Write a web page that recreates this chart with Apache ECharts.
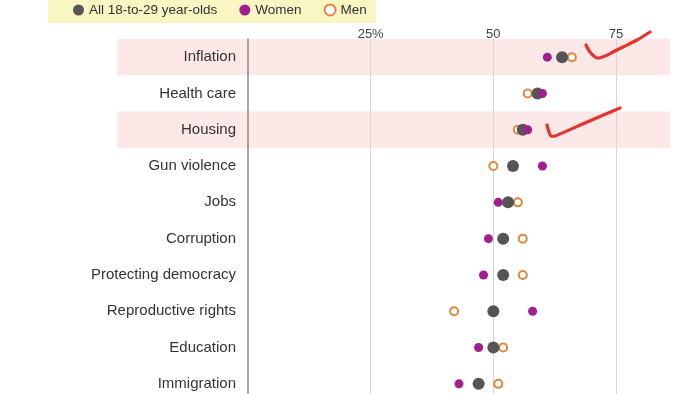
<!DOCTYPE html>
<html>
<head>
<meta charset="utf-8">
<script src="https://cdn.jsdelivr.net/npm/echarts@6/dist/echarts.min.js"></script>
<style>
html,body{margin:0;padding:0;background:#fff;overflow:hidden;}
#chart{width:700px;height:412px;}
</style>
</head>
<body>
<div id="chart"></div>
<script>
const categories = ['Inflation','Health care','Housing','Gun violence','Jobs','Corruption','Protecting democracy','Reproductive rights','Education','Immigration'];
const allValues = [64,59,56,54,53,52,52,50,50,47];
const womenValues = [61,60,57,60,51,49,48,58,47,43];
const menValues = [66,57,55,50,55,56,56,42,52,51];
const xTicks = [25,50,75];
const highlighted = ['Inflation','Housing'];
const seriesNames = ['All 18-to-29 year-olds','Women','Men'];

const FONT = 'Liberation Sans';
const chart = echarts.init(document.getElementById('chart'));
const option = {
  animation: false,
  textStyle: {fontFamily: FONT},
  legend: {
    left: 48, top: -5,
    padding: [8, 9, 6, 25],
    backgroundColor: '#faf6c4',
    itemGap: 22,
    itemWidth: 11, itemHeight: 11,
    textStyle: {fontFamily: FONT, fontSize: 13.5, color: '#333'},
    data: [
      {name: seriesNames[0], icon: 'circle'},
      {name: seriesNames[1], icon: 'circle'},
      {name: seriesNames[2], icon: 'emptyCircle'}
    ]
  },
  grid: {left: 248, right: 30, top: 39, height: 363, containLabel: false},
  xAxis: {
    type: 'value', position: 'top', min: 0, max: 86, interval: 25,
    axisLine: {show: false}, axisTick: {show: false},
    axisLabel: {
      margin: -2, fontSize: 13, color: '#444', fontFamily: FONT,
      formatter: v => v === xTicks[0] ? v + '%' : (xTicks.includes(v) ? String(v) : '')
    },
    splitLine: {show: true, showMinLine: false, showMaxLine: false, lineStyle: {color: '#d6d6d6', width: 1}}
  },
  yAxis: {
    type: 'category', data: categories, inverse: true,
    axisLine: {show: true, lineStyle: {color: '#8a8a8a', width: 1.5}},
    axisTick: {show: false},
    axisLabel: {margin: 12, fontSize: 15, color: '#333', fontFamily: FONT},
    splitLine: {show: false}
  },
  series: [
    {name: seriesNames[2], type: 'scatter', data: menValues.map((v,i)=>[v, categories[i]]),
     symbol: 'emptyCircle', symbolSize: 8, z: 3,
     itemStyle: {color: '#e0883a', borderColor: '#e0883a', borderWidth: 2, opacity: 1}},
    {name: seriesNames[0], type: 'scatter', data: allValues.map((v,i)=>[v, categories[i]]),
     symbol: 'circle', symbolSize: 12, z: 4, itemStyle: {color: '#555555', opacity: 1}},
    {name: seriesNames[1], type: 'scatter', data: womenValues.map((v,i)=>[v, categories[i]]),
     symbol: 'circle', symbolSize: 9, z: 5, itemStyle: {color: '#a01f8e', opacity: 1}}
  ]
};
chart.setOption(option);

// highlight bands, positioned through the category axis
const y0 = chart.convertToPixel({yAxisIndex: 0}, categories[0]);
const y1 = chart.convertToPixel({yAxisIndex: 0}, categories[1]);
const band = Math.abs(y1 - y0);
const xRight = chart.convertToPixel({xAxisIndex: 0}, 86);
const graphics = highlighted.map(c => {
  const yc = chart.convertToPixel({yAxisIndex: 0}, c);
  return {type: 'rect', z: -10, silent: true,
    shape: {x: 117, y: yc - band/2, width: xRight - 117, height: band},
    style: {fill: '#fde8e8'}};
});
// hand-drawn red check marks (annotation)
graphics.push({type: 'polyline', z: 100, silent: true,
  shape: {points: [[586,45],[590,52],[597,58],[605,56],[613,52],[623,47],[637,40],[650,32]], smooth: 0.3},
  style: {stroke: '#e8322e', lineWidth: 3.2, fill: null, lineCap: 'round', lineJoin: 'round'}});
graphics.push({type: 'polyline', z: 100, silent: true,
  shape: {points: [[547,125],[549,132],[551,136],[555,136],[585,123],[620,108]], smooth: 0.2},
  style: {stroke: '#e8322e', lineWidth: 3.2, fill: null, lineCap: 'round', lineJoin: 'round'}});
chart.setOption({graphic: graphics});
</script>
</body>
</html>
